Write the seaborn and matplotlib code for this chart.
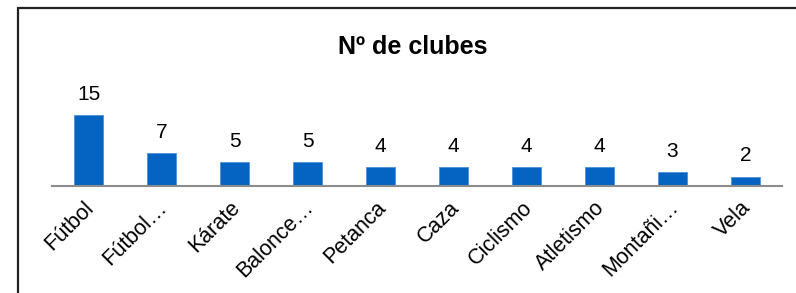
import numpy as np
import pandas as pd
import seaborn as sns
import matplotlib.pyplot as plt
import matplotlib.transforms as mtransforms
from matplotlib.patches import Rectangle

deportes = ["Fútbol", "Fútbol…", "Kárate", "Balonce…", "Petanca",
            "Caza", "Ciclismo", "Atletismo", "Montañi…", "Vela"]
clubes = [15, 7, 5, 5, 4, 4, 4, 4, 3, 2]

df = pd.DataFrame({"deporte": deportes, "clubes": clubes})

sns.set_style("white")
plt.rcParams["font.family"] = ["Liberation Sans", "DejaVu Sans"]
plt.rcParams["text.color"] = "black"
plt.rcParams["xtick.color"] = "black"

fig = plt.figure(figsize=(7.96, 2.93), dpi=100)
ax = fig.add_axes([52 / 796, 107 / 293, 730 / 796, 90 / 293])

sns.barplot(data=df, x="deporte", y="clubes", color="#0563c1", saturation=1,
            width=0.41, edgecolor="#4f8fdb", linewidth=0.6, ax=ax)
ax.bar_label(ax.containers[0], padding=8, fontsize=15, color="black")

ax.set_ylim(0, 19)
ax.set_xlim(-0.5, len(deportes) - 0.5)
ax.set_xlabel("")
ax.set_ylabel("")
ax.set_yticks([])
for s in ["top", "left", "right"]:
    ax.spines[s].set_visible(False)
ax.spines["bottom"].set_color("#8c8c8c")
ax.spines["bottom"].set_linewidth(1.5)
ax.tick_params(axis="x", length=0, pad=5)
# desplazar un poco las etiquetas hacia abajo a la izquierda
offset = mtransforms.ScaledTranslation(-5 / 100, -4 / 100, fig.dpi_scale_trans)
for lab in ax.get_xticklabels():
    lab.set_rotation(45)
    lab.set_ha("right")
    lab.set_rotation_mode("anchor")
    lab.set_fontsize(15.5)
    lab.set_color("black")
    lab.set_transform(lab.get_transform() + offset)

fig.text(0.519, 0.838, "Nº de clubes", ha="center", va="center",
         fontsize=18, fontweight="bold")

# marco exterior del gráfico
fig.patches.append(Rectangle((18 / 796, -0.05), 1.0, 1 - 8 / 293 + 0.05,
                             transform=fig.transFigure, fill=False,
                             edgecolor="#222222", linewidth=1.6))

fig.savefig("out.png", dpi=100)
